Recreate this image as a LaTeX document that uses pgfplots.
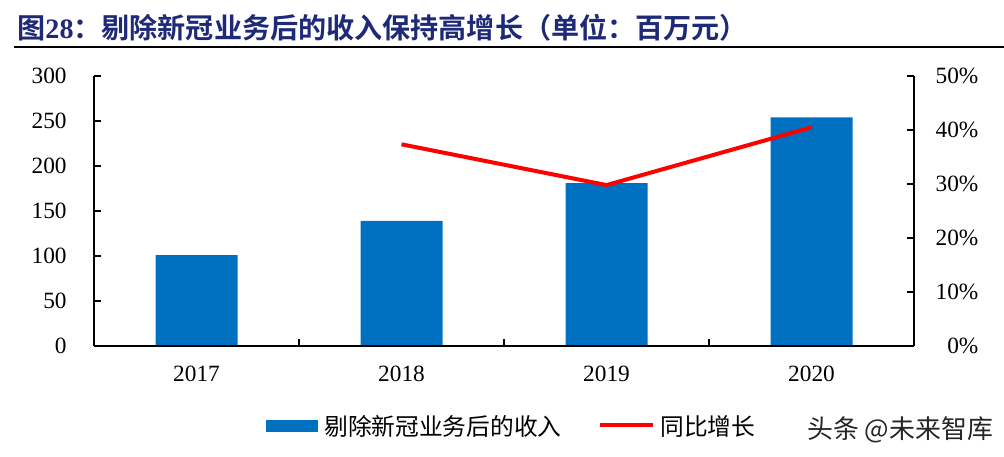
\documentclass[border=0pt]{standalone}
\usepackage{pgfplots}
\pgfplotsset{compat=1.18}
\usepackage{fontspec}
\setmainfont{Liberation Serif}
\newfontfamily\cjk[BoldFont={Noto Sans CJK SC Bold}]{Noto Sans CJK SC}
\definecolor{barblue}{HTML}{0070C0}
\definecolor{titleblue}{HTML}{1E2A78}
\begin{document}
\begin{tikzpicture}
\useasboundingbox (-47bp,-55.5bp) rectangle (455bp,173bp);
% left axis: revenue bars
\begin{axis}[
    scale only axis, width=410bp, height=135bp,
    xmin=0, xmax=4, ymin=0, ymax=300,
    axis x line*=bottom, axis y line*=left,
    axis line style={-, line width=0.6bp},
    xtick={0.5,1.5,2.5,3.5}, xticklabels={2017,2018,2019,2020},
    xtick pos=bottom,
    ytick={0,50,...,300}, ytick pos=left,
    tick align=inside, major tick length=3.5bp,
    tick style={line width=0.6bp, black},
    xtick style={draw=none},
    ticklabel style={font=\rmfamily\fontsize{11.7}{12}\selectfont},
    /pgf/number format/assume math mode=true,
    yticklabel style={anchor=east, inner sep=0pt, xshift=-13.5bp},
    xticklabel style={anchor=north, inner sep=0pt, yshift=-10bp},
    ]
\addplot[ybar, bar width=0.4, fill=barblue, draw=none] coordinates {(0.5,101) (1.5,139) (2.5,181) (3.5,254)};
\end{axis}
% right axis: growth line
\begin{axis}[
    scale only axis, width=410bp, height=135bp,
    xmin=0, xmax=4, ymin=0, ymax=50,
    axis x line*=bottom, axis y line*=right,
    axis line style={-, line width=0.6bp},
    xtick={1,2,3}, xticklabels={}, xtick pos=bottom,
    ytick={0,10,...,50}, ytick pos=right, yticklabel pos=right,
    yticklabel={\pgfmathprintnumber{\tick}\%},
    tick align=inside, major tick length=3.5bp,
    tick style={line width=0.6bp, black},
    ticklabel style={font=\rmfamily\fontsize{11.7}{12}\selectfont},
    /pgf/number format/assume math mode=true,
    yticklabel style={anchor=west, inner sep=0pt, text width=32bp, align=right},
    ]
\addplot[draw=red, line width=2bp, line join=round] coordinates {(1.5,37.35) (2.5,29.8) (3.5,40.5)};
\end{axis}
% title
\node[anchor=west, inner sep=0pt, text=titleblue, font=\cjk\bfseries\fontsize{14.1}{15}\selectfont] at (-38.5bp,159bp) {图{\rmfamily 28}：剔除新冠业务后的收入保持高增长（单位：百万元）};
\draw[line width=0.75bp] (-40bp,149.6bp) -- (455bp,149.6bp);
% legend
\fill[barblue] (86bp,-37bp) rectangle (112bp,-43bp);
\node[anchor=west, inner sep=0pt, font=\cjk\fontsize{11.9}{12}\selectfont] at (115bp,-40bp) {剔除新冠业务后的收入};
\draw[red, line width=2bp] (253bp,-39.5bp) -- (279.5bp,-39.5bp);
\node[anchor=west, inner sep=0pt, font=\cjk\fontsize{11.9}{12}\selectfont] at (283bp,-40bp) {同比增长};
% watermark
\node[anchor=west, inner sep=0pt, text=black!85, font=\cjk\fontsize{13}{13}\selectfont] at (356.5bp,-42bp) {头条 @未来智库};
\end{tikzpicture}
\end{document}
